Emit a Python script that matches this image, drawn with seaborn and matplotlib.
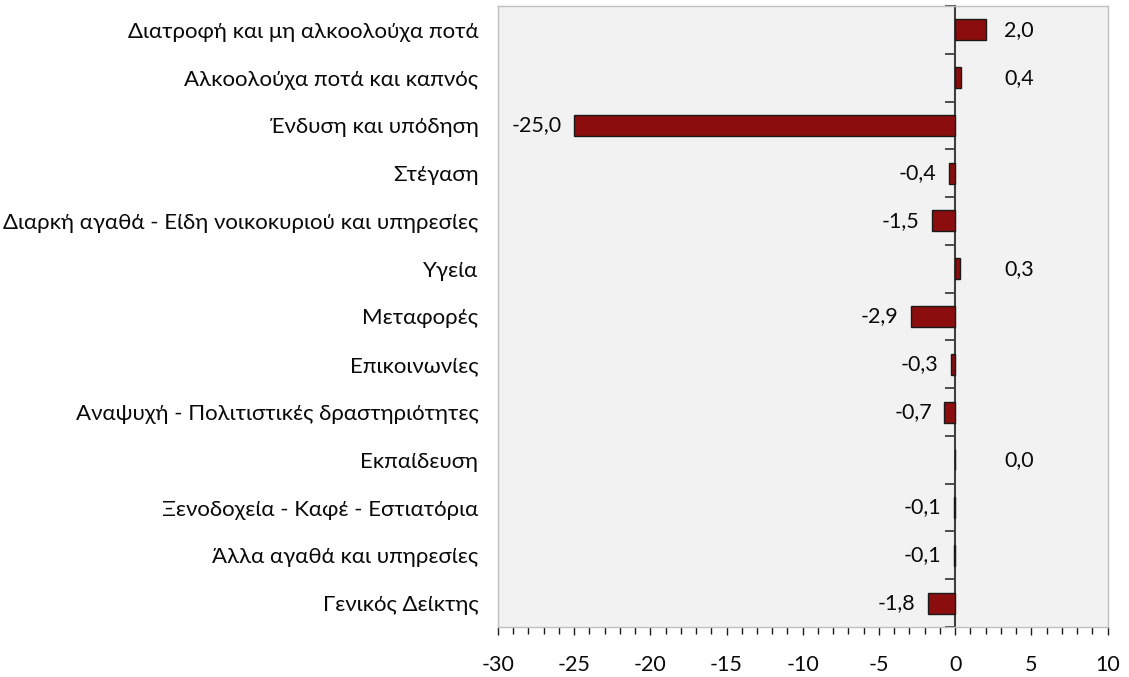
import matplotlib
matplotlib.use("Agg")
import matplotlib.pyplot as plt
from matplotlib.ticker import MultipleLocator, FixedLocator
import seaborn as sns
import pandas as pd

categories = [
    "Διατροφή και μη αλκοολούχα ποτά",
    "Αλκοολούχα ποτά και καπνός",
    "Ένδυση και υπόδηση",
    "Στέγαση",
    "Διαρκή αγαθά - Είδη νοικοκυριού και υπηρεσίες",
    "Υγεία",
    "Μεταφορές",
    "Επικοινωνίες",
    "Αναψυχή - Πολιτιστικές δραστηριότητες",
    "Εκπαίδευση",
    "Ξενοδοχεία - Καφέ - Εστιατόρια",
    "Άλλα αγαθά και υπηρεσίες",
    "Γενικός Δείκτης",
]
values = [2.0, 0.4, -25.0, -0.4, -1.5, 0.3, -2.9, -0.3, -0.7, 0.0, -0.1, -0.1, -1.8]
x_ticks = [-30, -25, -20, -15, -10, -5, 0, 5, 10]

df = pd.DataFrame({"cat": categories, "val": values})

sns.set_theme(style="white")
plt.rcParams["font.family"] = ["Lato", "DejaVu Sans"]
FS_CAT = 16
FS = 15.5
TXT = "#0a0a0a"

fig = plt.figure(figsize=(11.29, 6.77), dpi=100)
ax = fig.add_axes([0.441, 0.074, 0.540, 0.917])
ax.set_facecolor("#f2f2f2")

sns.barplot(data=df, x="val", y="cat", orient="h", color="#8b0d0d",
            saturation=1, width=0.44, edgecolor="#1a1a1a", linewidth=1.0, ax=ax)

ax.set_xlim(-30, 10)
ax.set_ylim(len(categories) - 0.5, -0.5)
ax.set_xlabel("")
ax.set_ylabel("")

for s in ax.spines.values():
    s.set_color("#bfbfbf")
    s.set_linewidth(1.0)

# category axis drawn along the zero line, ticks between categories pointing left
zero_axis = ax.secondary_yaxis((0 - (-30)) / 40)
zero_axis.yaxis.set_ticks_position("left")
zero_axis.spines["left"].set_visible(True)
zero_axis.spines["right"].set_visible(False)
zero_axis.spines["left"].set_color("#404040")
zero_axis.spines["left"].set_linewidth(1.5)
zero_axis.yaxis.set_major_locator(FixedLocator([i - 0.5 for i in range(len(categories) + 1)]))
zero_axis.tick_params(axis="y", which="major", left=True, right=False, direction="out",
                      length=7, width=1.3, color="#404040",
                      labelleft=False, labelright=False)

ax.tick_params(axis="y", length=0, pad=14, labelsize=FS_CAT, labelcolor=TXT)
ax.xaxis.set_major_locator(FixedLocator(x_ticks))
ax.xaxis.set_minor_locator(MultipleLocator(1))
ax.set_xticklabels([str(t) for t in x_ticks])
ax.tick_params(axis="x", which="major", bottom=True, direction="out", length=6, width=1.0,
               color="#1a1a1a", pad=14, labelsize=FS, labelcolor=TXT)
ax.tick_params(axis="x", which="minor", bottom=True, direction="out", length=5, width=1.0,
               color="#1a1a1a")

# value labels
for i, v in enumerate(values):
    txt = f"{v:.1f}".replace(".", ",")
    if v >= 0:
        ax.text(3.2, i, txt, ha="left", va="center", fontsize=FS, color=TXT)
    else:
        ax.annotate(txt, xy=(v, i), xytext=(-9, 0), textcoords="offset points",
                    ha="right", va="center", fontsize=FS, color=TXT)

fig.savefig("out.png", dpi=100)
